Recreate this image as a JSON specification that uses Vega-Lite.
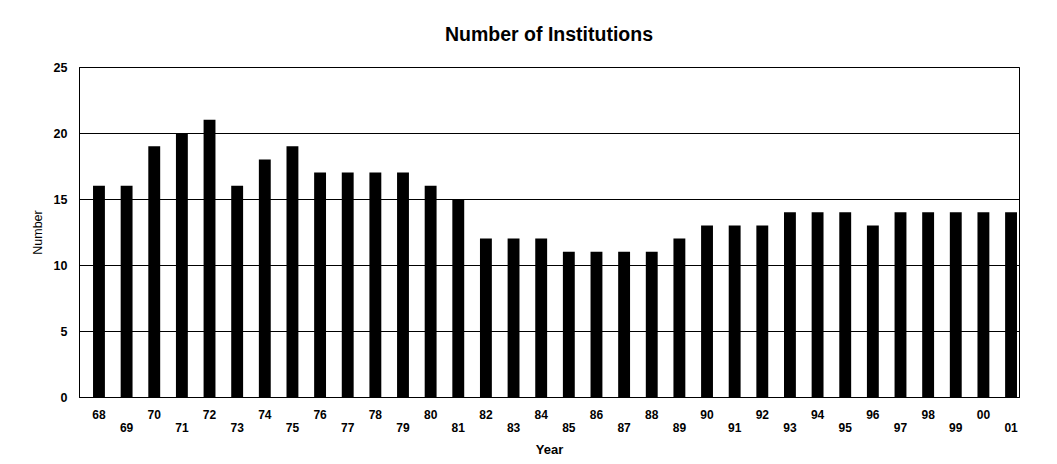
{
  "$schema": "https://vega.github.io/schema/vega-lite/v6.json",
  "width": 940,
  "height": 330,
  "autosize": {"type": "none"},
  "padding": {"left": 79, "top": 67, "right": 38, "bottom": 67},
  "background": "white",
  "title": {
    "text": "Number of Institutions",
    "font": "Liberation Sans",
    "fontSize": 19.5,
    "fontWeight": "bold",
    "color": "black",
    "anchor": "middle",
    "offset": 16
  },
  "data": {
    "values": [
      {"year": "68", "number": 16}, {"year": "69", "number": 16}, {"year": "70", "number": 19},
      {"year": "71", "number": 20}, {"year": "72", "number": 21}, {"year": "73", "number": 16},
      {"year": "74", "number": 18}, {"year": "75", "number": 19}, {"year": "76", "number": 17},
      {"year": "77", "number": 17}, {"year": "78", "number": 17}, {"year": "79", "number": 17},
      {"year": "80", "number": 16}, {"year": "81", "number": 15}, {"year": "82", "number": 12},
      {"year": "83", "number": 12}, {"year": "84", "number": 12}, {"year": "85", "number": 11},
      {"year": "86", "number": 11}, {"year": "87", "number": 11}, {"year": "88", "number": 11},
      {"year": "89", "number": 12}, {"year": "90", "number": 13}, {"year": "91", "number": 13},
      {"year": "92", "number": 13}, {"year": "93", "number": 14}, {"year": "94", "number": 14},
      {"year": "95", "number": 14}, {"year": "96", "number": 13}, {"year": "97", "number": 14},
      {"year": "98", "number": 14}, {"year": "99", "number": 14}, {"year": "00", "number": 14},
      {"year": "01", "number": 14}
    ]
  },
  "mark": {"type": "bar", "color": "black"},
  "encoding": {
    "x": {
      "field": "year",
      "type": "ordinal",
      "sort": null,
      "scale": {"paddingInner": 0.57, "paddingOuter": 0.29, "align": 0.875},
      "axis": {
        "title": "Year",
        "titleFont": "Liberation Sans",
        "titleFontSize": 13,
        "titleFontWeight": "bold",
        "titleColor": "black",
        "titlePadding": 10,
        "labelAngle": 0,
        "labelFont": "Liberation Sans",
        "labelFontSize": 12,
        "labelFontWeight": "bold",
        "labelColor": "black",
        "labelBaseline": "top",
        "labelPadding": 12,
        "labelLineHeight": 13,
        "labelExpr": "toNumber(datum.value) % 2 ? ['', datum.label] : datum.label",
        "ticks": false,
        "domain": true,
        "domainColor": "black",
        "grid": false,
        "labelOverlap": false
      }
    },
    "y": {
      "field": "number",
      "type": "quantitative",
      "scale": {"domain": [0, 25], "nice": false},
      "axis": {
        "title": "Number",
        "titleFont": "Liberation Sans",
        "titleFontSize": 12.5,
        "titleFontWeight": "normal",
        "titleColor": "black",
        "titlePadding": 9,
        "values": [0, 5, 10, 15, 20, 25],
        "labelFont": "Liberation Sans",
        "labelFontSize": 12.5,
        "labelFontWeight": "bold",
        "labelColor": "black",
        "labelPadding": 12,
        "ticks": false,
        "domain": true,
        "domainColor": "black",
        "grid": true,
        "gridColor": "black",
        "gridWidth": 1,
        "gridOpacity": 1
      }
    }
  },
  "config": {
    "view": {"stroke": "black", "strokeWidth": 1}
  }
}
